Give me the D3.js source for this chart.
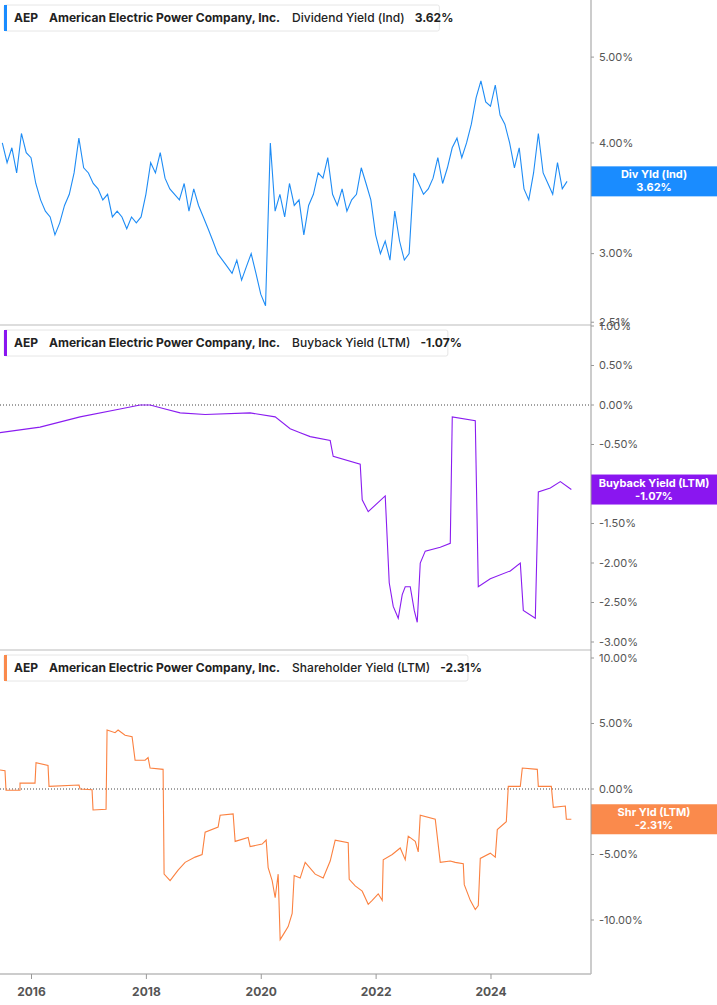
<!DOCTYPE html>
<html>
<head>
<meta charset="utf-8">
<script src="https://cdn.jsdelivr.net/npm/d3@7"></script>
<style>
  body { margin: 0; background: #fff; font-family: Inter, Roboto, sans-serif; }
</style>
</head>
<body>
<div id="chart"></div>
<script>
// Dividend yield, monthly from mid 2015
const divStart = 2015.5;
const divVals = [
  4.0, 3.8, 3.95, 3.7, 4.1, 3.9,
  3.85, 3.6, 3.45, 3.35, 3.3, 3.15, 3.25, 3.4, 3.5, 3.7, 4.05, 3.75,
  3.7, 3.6, 3.55, 3.45, 3.5, 3.3, 3.35, 3.3, 3.2, 3.3, 3.25, 3.3,
  3.5, 3.8, 3.7, 3.9, 3.65, 3.55, 3.5, 3.45, 3.6, 3.35, 3.55, 3.4,
  3.3, 3.2, 3.1, 3.0, 2.95, 2.9, 2.85, 2.95, 2.8, 2.9, 3.0, 2.85,
  2.7, 2.62, 4.0, 3.35, 3.5, 3.3, 3.6, 3.4, 3.45, 3.15, 3.4, 3.5,
  3.7, 3.65, 3.85, 3.5, 3.4, 3.55, 3.35, 3.45, 3.5, 3.75, 3.6, 3.45,
  3.15, 3.0, 3.1, 2.95, 3.35, 3.1, 2.95, 3.0, 3.7, 3.6, 3.5, 3.55,
  3.65, 3.85, 3.6, 3.75, 3.95, 4.05, 3.85, 4.0, 4.2, 4.5, 4.7, 4.45,
  4.4, 4.65, 4.3, 4.2, 4.0, 3.75, 3.95, 3.55, 3.45, 3.7, 4.1, 3.7,
  3.6, 3.5, 3.8, 3.55, 3.62
];

// Buyback yield (pixel-read x positions converted to years below)
const bbX = [0, 40, 80, 120, 140, 150, 165, 180, 205, 250, 275, 290, 300, 310, 330, 333, 360, 362, 368, 385, 389, 393, 398, 402, 405, 410, 414, 417, 420, 425, 440, 450, 452, 475, 478, 490, 510, 520, 523, 535, 538, 550, 560, 571];
const bbVals = [-0.35, -0.28, -0.15, -0.05, 0.0, 0.0, -0.05, -0.1, -0.12, -0.1, -0.15, -0.3, -0.35, -0.4, -0.45, -0.65, -0.75, -1.2, -1.35, -1.15, -2.25, -2.55, -2.7, -2.4, -2.3, -2.3, -2.6, -2.75, -2.0, -1.85, -1.8, -1.75, -0.15, -0.2, -2.3, -2.2, -2.1, -2.0, -2.6, -2.7, -1.1, -1.05, -0.97, -1.07];

// Shareholder yield
const shX = [0, 5, 6, 20, 20, 35, 36, 48, 49, 79, 80, 92, 93, 106, 107, 115, 118, 125, 132, 135, 145, 148, 150, 163, 164, 170, 178, 185, 195, 202, 205, 218, 220, 233, 235, 248, 250, 262, 266, 268, 272, 275, 278, 280, 284, 288, 292, 294, 300, 305, 315, 323, 330, 335, 348, 349, 355, 362, 368, 372, 378, 382, 383, 392, 400, 405, 408, 415, 418, 420, 435, 440, 450, 455, 463, 464, 470, 475, 478, 480, 490, 495, 497, 506, 508, 520, 522, 537, 538, 551, 553, 565, 566, 571];
const shVals = [1.45, 1.4, -0.1, -0.1, 0.45, 0.45, 2.0, 1.8, 0.2, 0.3, 0.0, -0.05, -1.6, -1.55, 4.5, 4.3, 4.5, 4.1, 4.0, 2.2, 2.2, 2.4, 1.6, 1.5, -6.5, -7.0, -6.2, -5.6, -5.2, -5.0, -3.3, -2.9, -2.0, -1.9, -4.0, -3.7, -4.4, -4.2, -3.9, -6.0, -7.0, -8.3, -6.5, -11.5, -11.0, -10.5, -9.5, -6.6, -6.8, -5.6, -6.5, -6.8, -5.5, -3.9, -4.1, -6.9, -7.4, -7.8, -8.8, -8.5, -8.0, -8.5, -5.4, -5.0, -4.5, -5.4, -3.6, -4.0, -4.8, -2.0, -2.3, -5.6, -5.5, -5.6, -5.7, -7.3, -8.5, -9.2, -8.9, -5.3, -4.9, -5.2, -3.1, -2.5, 0.2, 0.2, 1.6, 1.5, 0.2, 0.2, -1.4, -1.3, -2.3, -2.31];

const yearTicks = [2016, 2018, 2020, 2022, 2024];
const divTicks = [5, 4, 3, 2.51];
const bbTicks = [1, 0.5, 0, -0.5, -1.5, -2, -2.5, -3];
const shTicks = [10, 5, 0, -5, -10];

const W = 717, H = 1005, axisX = 591, bottomY = 974;
const svg = d3.select("#chart").append("svg").attr("width", W).attr("height", H);

const x = d3.scaleLinear().domain([2015.46, 2025.75]).range([0, axisX]);
const pxToYear = px => 2016 + (px - 31) / 57.4;

const panels = [
  { top: 0, bottom: 325, y: d3.scaleLog().domain([2.505, 5.8]).range([323, 0]), ticks: divTicks,
    data: divVals.map((v, i) => [divStart + i / 12, v]), color: "#1e8cf5", box: "#1a8cff",
    metric: "Dividend Yield (Ind)", val: "3.62%", label: ["Div Yld (Ind)", "3.62%"], last: 3.62, zero: false },
  { top: 325, bottom: 650, y: d3.scaleLinear().domain([-3, 1]).range([642, 326]), ticks: bbTicks,
    data: bbX.map((p, i) => [pxToYear(p), bbVals[i]]), color: "#8a1cf0", box: "#8a16f0",
    metric: "Buyback Yield (LTM)", val: "-1.07%", label: ["Buyback Yield (LTM)", "-1.07%"], last: -1.07, zero: true },
  { top: 650, bottom: bottomY, y: d3.scaleLinear().domain([-10, 10]).range([920, 658]), ticks: shTicks,
    data: shX.map((p, i) => [pxToYear(p), shVals[i]]), color: "#fb8140", box: "#fa8a4c",
    metric: "Shareholder Yield (LTM)", val: "-2.31%", label: ["Shr Yld (LTM)", "-2.31%"], last: -2.31, zero: true }
];

panels.forEach(p => {
  const g = svg.append("g");
  if (p.zero) {
    g.append("line").attr("x1", 0).attr("x2", axisX).attr("y1", p.y(0)).attr("y2", p.y(0))
      .attr("stroke", "#444").attr("stroke-dasharray", "1,2");
  }
  g.append("path").datum(p.data)
    .attr("fill", "none").attr("stroke", p.color).attr("stroke-width", 1.1)
    .attr("d", d3.line().x(d => x(d[0])).y(d => p.y(d[1])));

  // right ticks
  p.ticks.forEach(t => {
    const ty = p.y(t);
    g.append("line").attr("x1", axisX).attr("x2", axisX + 3).attr("y1", ty).attr("y2", ty).attr("stroke", "#999");
    g.append("text").attr("x", axisX + 8).attr("y", ty).attr("dy", "0.35em")
      .attr("font-size", 11).attr("fill", "#555").text(t.toFixed(2) + "%");
  });

  // last value box
  const ly = p.y(p.last);
  g.append("rect").attr("x", axisX).attr("y", ly - 15).attr("width", W - axisX).attr("height", 30).attr("fill", p.box);
  g.append("text").attr("x", 654).attr("y", ly - 3).attr("text-anchor", "middle").attr("font-size", 11)
    .attr("font-weight", 700).attr("fill", "#fff").text(p.label[0]);
  g.append("text").attr("x", 654).attr("y", ly + 10).attr("text-anchor", "middle").attr("font-size", 11)
    .attr("font-weight", 700).attr("fill", "#fff").text(p.label[1]);

  // legend
  const lg = g.append("g").attr("transform", `translate(4,${p.top + 5})`);
  const bg = lg.append("rect").attr("y", 0).attr("height", 26).attr("rx", 2)
    .attr("fill", "#fff").attr("stroke", "#e6e6e6");
  lg.append("rect").attr("width", 3).attr("height", 26).attr("fill", p.box);
  const txt = lg.append("text").attr("x", 10).attr("y", 17).attr("font-size", 12).attr("fill", "#222");
  txt.append("tspan").attr("font-weight", 700).text("AEP");
  txt.append("tspan").attr("dx", 12).attr("font-weight", 700).text("American Electric Power Company, Inc.");
  txt.append("tspan").attr("dx", 12).attr("font-weight", 500).text(p.metric);
  txt.append("tspan").attr("dx", 10).attr("font-weight", 700).text(p.val);
  bg.attr("width", txt.node().getComputedTextLength() + 30);

  if (p.top > 0) {
    g.append("line").attr("x1", 0).attr("x2", axisX).attr("y1", p.top).attr("y2", p.top).attr("stroke", "#bbb");
  }
});

// axes frame
svg.append("line").attr("x1", axisX).attr("x2", axisX).attr("y1", 0).attr("y2", bottomY).attr("stroke", "#999");
svg.append("line").attr("x1", 0).attr("x2", axisX).attr("y1", bottomY).attr("y2", bottomY).attr("stroke", "#bbb").attr("stroke-width", 1.5);

const xa = svg.append("g").attr("transform", `translate(0,${bottomY})`)
  .call(d3.axisBottom(x).tickValues(yearTicks).tickFormat(d3.format("d")).tickSize(5).tickPadding(8));
xa.select(".domain").remove();
xa.selectAll("line").attr("stroke", "#999");
xa.selectAll("text").attr("font-size", 12).attr("font-weight", 700).attr("fill", "#555").attr("font-family", "Inter, Roboto, sans-serif");
</script>
</body>
</html>
